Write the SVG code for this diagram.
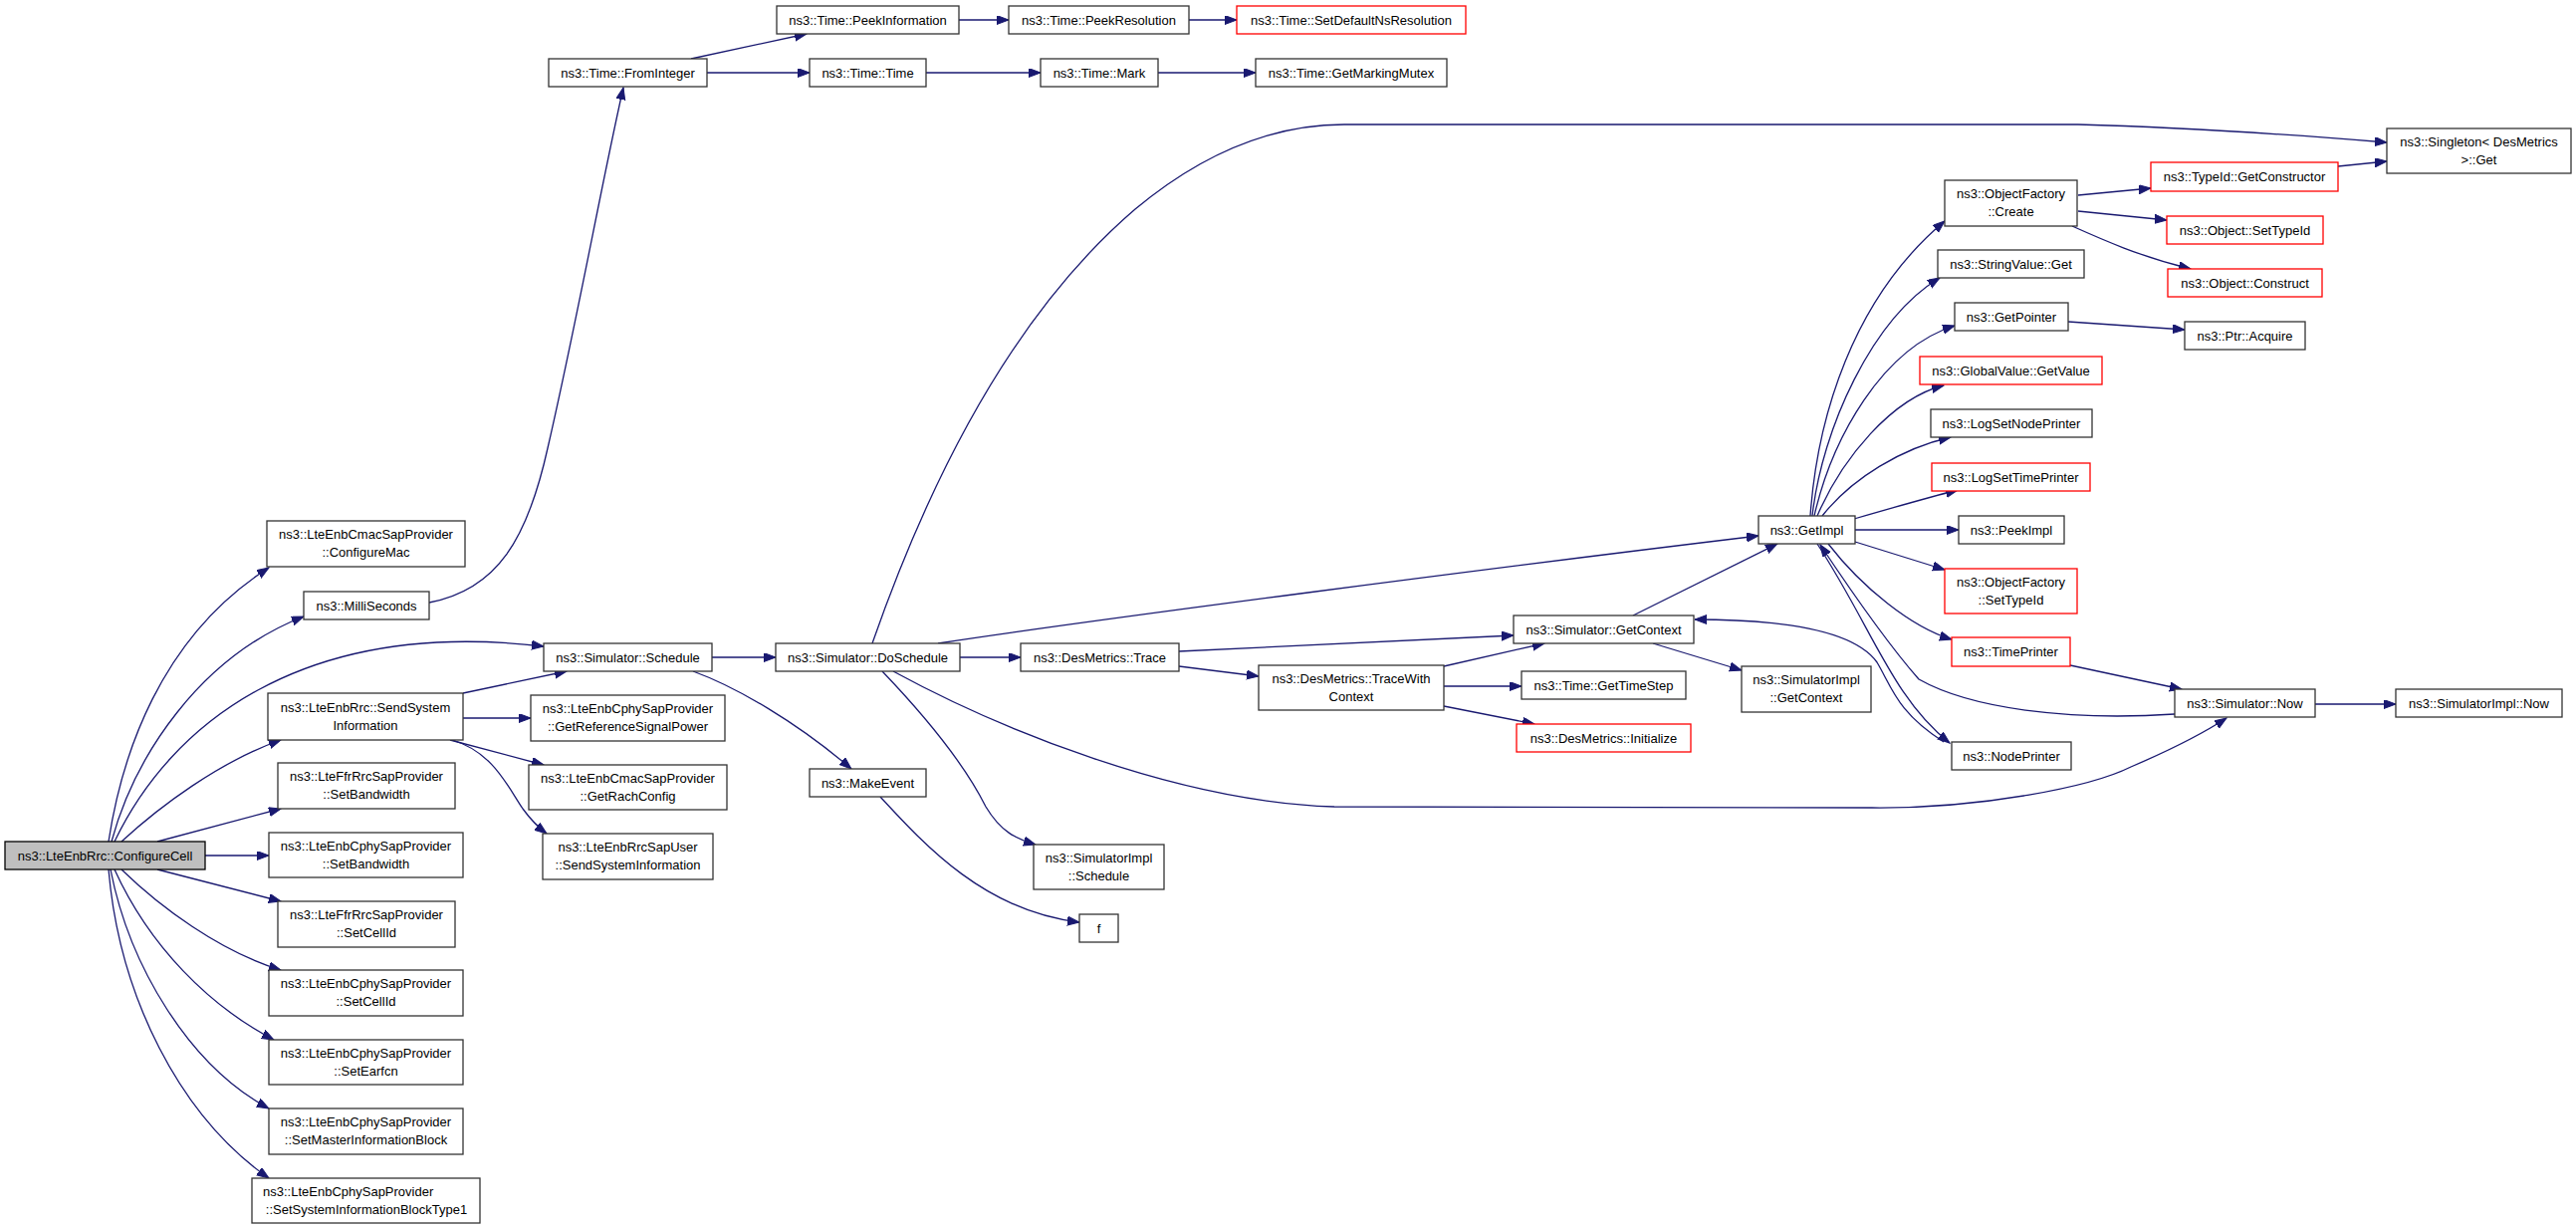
<svg xmlns="http://www.w3.org/2000/svg" width="2587" height="1233" viewBox="0 0 2587 1233">
<style>
.n rect{fill:#fff;stroke:#333;stroke-width:1.3}
.n.r rect{stroke:#ff0000}
.n.g rect{fill:#bfbfbf;stroke:#000}
.n text{font-family:"Liberation Sans",Arial,Helvetica,sans-serif;font-size:13px;fill:#000;text-anchor:middle}
#edges path{fill:none;stroke:#191970;stroke-width:1.3;marker-end:url(#ah)}
</style>
<defs>
<marker id="ah" markerUnits="userSpaceOnUse" markerWidth="13" markerHeight="10" refX="12" refY="4.5" orient="auto">
<path d="M0,0 L12,4.5 L0,9 z" fill="#191970" stroke="#191970" stroke-width="1"/>
</marker>
</defs>
<rect width="2587" height="1233" fill="#fff"/>
<g id="edges">
<path d="M109,845 C122,760 160,640 270,570"/>
<path d="M112,845 C135,760 200,660 305,619"/>
<path d="M115,845 C170,730 300,620 546,649"/>
<path d="M122,845 C160,810 220,765 282,743"/>
<path d="M158,845 L282,812"/>
<path d="M206,859 L270,859"/>
<path d="M158,873 L282,905"/>
<path d="M122,873 C160,910 220,955 282,974"/>
<path d="M115,873 C150,950 210,1010 275,1044"/>
<path d="M111,873 C130,970 190,1070 270,1113"/>
<path d="M109,873 C120,1000 180,1120 270,1183"/>
<path d="M431,605 C500,592 530,540 550,450 C580,320 605,180 626,88"/>
<path d="M694,59 L810,34"/>
<path d="M710,73 L813,73"/>
<path d="M963,20 L1013,20"/>
<path d="M1194,20 L1242,20"/>
<path d="M930,73 L1045,73"/>
<path d="M1163,73 L1261,73"/>
<path d="M465,696 L569,674"/>
<path d="M465,721 L533,721"/>
<path d="M452,743 L546,768"/>
<path d="M454,743 C495,755 510,790 525,812 C533,823 541,831 549,837"/>
<path d="M715,660 L779,660"/>
<path d="M696,674 C740,690 800,725 855,772"/>
<path d="M884,800 C930,850 990,915 1084,926"/>
<path d="M876,646 C920,520 1000,330 1140,210 C1200,160 1270,125 1350,125 L2087,125 C2200,128 2300,135 2397,143"/>
<path d="M942,646 C1100,622 1500,570 1766,538"/>
<path d="M964,660 L1025,660"/>
<path d="M886,674 C930,720 970,770 990,810 C1005,835 1020,842 1040,848"/>
<path d="M897,674 C1000,730 1180,805 1340,810 L1880,811 C1990,812 2100,790 2140,770 C2175,755 2210,738 2236,721"/>
<path d="M1184,654 L1520,638"/>
<path d="M1184,669 L1264,679"/>
<path d="M1450,669 L1551,646"/>
<path d="M1450,689 L1528,689"/>
<path d="M1450,709 L1541,727"/>
<path d="M1640,618 L1785,546"/>
<path d="M1660,646 L1749,673"/>
<path d="M1818,518 C1825,420 1860,300 1953,222"/>
<path d="M1820,518 C1830,430 1880,320 1948,279"/>
<path d="M1822,518 C1840,440 1890,350 1963,327"/>
<path d="M1825,518 C1850,460 1900,400 1952,387"/>
<path d="M1830,518 C1860,480 1910,450 1959,439"/>
<path d="M1862,521 C1900,510 1935,500 1966,492"/>
<path d="M1863,532 L1967,532"/>
<path d="M1863,544 L1953,572"/>
<path d="M1836,546 C1870,590 1920,630 1960,642"/>
<path d="M1825,546 C1880,630 1900,700 1958,746"/>
<path d="M2184,717 C2080,724 1980,712 1927,682 C1890,640 1850,580 1828,547"/>
<path d="M1952,745 C1905,715 1900,690 1885,665 C1860,630 1780,622 1702,622"/>
<path d="M2087,196 L2160,189"/>
<path d="M2087,212 L2176,221"/>
<path d="M2081,227 C2110,240 2150,258 2200,270"/>
<path d="M2348,167 L2397,162"/>
<path d="M2077,323 L2194,331"/>
<path d="M2079,668 L2191,692"/>
<path d="M2325,707 L2406,707"/>
</g>
<g id="n_cc" class="n g"><rect x="5" y="845" width="201" height="28"/><text x="105.5" y="863.5">ns3::LteEnbRrc::ConfigureCell</text></g>
<g id="n_cmac" class="n"><rect x="268" y="523" width="199" height="46"/><text x="367.5" y="541">ns3::LteEnbCmacSapProvider</text><text x="367.5" y="559">::ConfigureMac</text></g>
<g id="n_milli" class="n"><rect x="305" y="594" width="126" height="28"/><text x="368" y="612.5">ns3::MilliSeconds</text></g>
<g id="n_sched" class="n"><rect x="546" y="646" width="169" height="28"/><text x="630.5" y="664.5">ns3::Simulator::Schedule</text></g>
<g id="n_ssi" class="n"><rect x="269" y="696" width="196" height="47"/><text x="367" y="715">ns3::LteEnbRrc::SendSystem</text><text x="367" y="733">Information</text></g>
<g id="n_grsp" class="n"><rect x="533" y="698" width="195" height="46"/><text x="630.5" y="716">ns3::LteEnbCphySapProvider</text><text x="630.5" y="734">::GetReferenceSignalPower</text></g>
<g id="n_grach" class="n"><rect x="531" y="768" width="199" height="45"/><text x="630.5" y="786">ns3::LteEnbCmacSapProvider</text><text x="630.5" y="804">::GetRachConfig</text></g>
<g id="n_rsu" class="n"><rect x="545" y="837" width="171" height="46"/><text x="630.5" y="855">ns3::LteEnbRrcSapUser</text><text x="630.5" y="873">::SendSystemInformation</text></g>
<g id="n_ffrbw" class="n"><rect x="279" y="766" width="178" height="46"/><text x="368" y="784">ns3::LteFfrRrcSapProvider</text><text x="368" y="802">::SetBandwidth</text></g>
<g id="n_cphybw" class="n"><rect x="270" y="836" width="195" height="45"/><text x="367.5" y="854">ns3::LteEnbCphySapProvider</text><text x="367.5" y="872">::SetBandwidth</text></g>
<g id="n_ffrcid" class="n"><rect x="279" y="905" width="178" height="46"/><text x="368" y="923">ns3::LteFfrRrcSapProvider</text><text x="368" y="941">::SetCellId</text></g>
<g id="n_cphycid" class="n"><rect x="270" y="974" width="195" height="46"/><text x="367.5" y="992">ns3::LteEnbCphySapProvider</text><text x="367.5" y="1010">::SetCellId</text></g>
<g id="n_earfcn" class="n"><rect x="270" y="1044" width="195" height="45"/><text x="367.5" y="1062">ns3::LteEnbCphySapProvider</text><text x="367.5" y="1080">::SetEarfcn</text></g>
<g id="n_mib" class="n"><rect x="270" y="1113" width="195" height="46"/><text x="367.5" y="1131">ns3::LteEnbCphySapProvider</text><text x="367.5" y="1149">::SetMasterInformationBlock</text></g>
<g id="n_sib1" class="n"><rect x="253" y="1183" width="229" height="45"/><text x="264" y="1201" style="text-anchor:start">ns3::LteEnbCphySapProvider</text><text x="368" y="1219">::SetSystemInformationBlockType1</text></g>
<g id="n_fromint" class="n"><rect x="551" y="59" width="159" height="28"/><text x="630.5" y="77.5">ns3::Time::FromInteger</text></g>
<g id="n_peekinfo" class="n"><rect x="780" y="6" width="183" height="28"/><text x="871.5" y="24.5">ns3::Time::PeekInformation</text></g>
<g id="n_time" class="n"><rect x="813" y="59" width="117" height="28"/><text x="871.5" y="77.5">ns3::Time::Time</text></g>
<g id="n_peekres" class="n"><rect x="1013" y="6" width="181" height="28"/><text x="1103.5" y="24.5">ns3::Time::PeekResolution</text></g>
<g id="n_setdef" class="n r"><rect x="1242" y="6" width="230" height="28"/><text x="1357" y="24.5">ns3::Time::SetDefaultNsResolution</text></g>
<g id="n_mark" class="n"><rect x="1045" y="59" width="118" height="28"/><text x="1104" y="77.5">ns3::Time::Mark</text></g>
<g id="n_mutex" class="n"><rect x="1261" y="59" width="192" height="28"/><text x="1357" y="77.5">ns3::Time::GetMarkingMutex</text></g>
<g id="n_dosched" class="n"><rect x="779" y="646" width="185" height="28"/><text x="871.5" y="664.5">ns3::Simulator::DoSchedule</text></g>
<g id="n_trace" class="n"><rect x="1025" y="646" width="159" height="28"/><text x="1104.5" y="664.5">ns3::DesMetrics::Trace</text></g>
<g id="n_makeevent" class="n"><rect x="813" y="772" width="117" height="28"/><text x="871.5" y="790.5">ns3::MakeEvent</text></g>
<g id="n_simplsched" class="n"><rect x="1038" y="848" width="131" height="45"/><text x="1103.5" y="866">ns3::SimulatorImpl</text><text x="1103.5" y="884">::Schedule</text></g>
<g id="n_f" class="n"><rect x="1084" y="918" width="39" height="28"/><text x="1103.5" y="936.5">f</text></g>
<g id="n_getctx" class="n"><rect x="1520" y="618" width="181" height="28"/><text x="1610.5" y="636.5">ns3::Simulator::GetContext</text></g>
<g id="n_twc" class="n"><rect x="1264" y="668" width="186" height="45"/><text x="1357" y="686">ns3::DesMetrics::TraceWith</text><text x="1357" y="704">Context</text></g>
<g id="n_timestep" class="n"><rect x="1528" y="674" width="165" height="28"/><text x="1610.5" y="692.5">ns3::Time::GetTimeStep</text></g>
<g id="n_init" class="n r"><rect x="1523" y="727" width="175" height="28"/><text x="1610.5" y="745.5">ns3::DesMetrics::Initialize</text></g>
<g id="n_implctx" class="n"><rect x="1749" y="669" width="130" height="46"/><text x="1814" y="687">ns3::SimulatorImpl</text><text x="1814" y="705">::GetContext</text></g>
<g id="n_getimpl" class="n"><rect x="1766" y="518" width="97" height="28"/><text x="1814.5" y="536.5">ns3::GetImpl</text></g>
<g id="n_singleton" class="n"><rect x="2397" y="129" width="185" height="45"/><text x="2489.5" y="147">ns3::Singleton&lt; DesMetrics</text><text x="2489.5" y="165">&gt;::Get</text></g>
<g id="n_ofcreate" class="n"><rect x="1953" y="181" width="133" height="46"/><text x="2019.5" y="199">ns3::ObjectFactory</text><text x="2019.5" y="217">::Create</text></g>
<g id="n_getctor" class="n r"><rect x="2160" y="163" width="188" height="29"/><text x="2254" y="182">ns3::TypeId::GetConstructor</text></g>
<g id="n_objsettid" class="n r"><rect x="2176" y="217" width="157" height="28"/><text x="2254.5" y="235.5">ns3::Object::SetTypeId</text></g>
<g id="n_construct" class="n r"><rect x="2177" y="270" width="155" height="28"/><text x="2254.5" y="288.5">ns3::Object::Construct</text></g>
<g id="n_strget" class="n"><rect x="1946" y="251" width="147" height="28"/><text x="2019.5" y="269.5">ns3::StringValue::Get</text></g>
<g id="n_getptr" class="n"><rect x="1963" y="304" width="114" height="28"/><text x="2020" y="322.5">ns3::GetPointer</text></g>
<g id="n_acquire" class="n"><rect x="2194" y="323" width="121" height="28"/><text x="2254.5" y="341.5">ns3::Ptr::Acquire</text></g>
<g id="n_gvget" class="n r"><rect x="1928" y="358" width="183" height="28"/><text x="2019.5" y="376.5">ns3::GlobalValue::GetValue</text></g>
<g id="n_lognode" class="n"><rect x="1939" y="411" width="162" height="28"/><text x="2020" y="429.5">ns3::LogSetNodePrinter</text></g>
<g id="n_logtime" class="n r"><rect x="1940" y="465" width="159" height="28"/><text x="2019.5" y="483.5">ns3::LogSetTimePrinter</text></g>
<g id="n_peekimpl" class="n"><rect x="1967" y="518" width="106" height="28"/><text x="2020" y="536.5">ns3::PeekImpl</text></g>
<g id="n_ofsettid" class="n r"><rect x="1953" y="571" width="133" height="45"/><text x="2019.5" y="589">ns3::ObjectFactory</text><text x="2019.5" y="607">::SetTypeId</text></g>
<g id="n_timeprinter" class="n r"><rect x="1960" y="640" width="119" height="29"/><text x="2019.5" y="659">ns3::TimePrinter</text></g>
<g id="n_now" class="n"><rect x="2184" y="692" width="141" height="28"/><text x="2254.5" y="710.5">ns3::Simulator::Now</text></g>
<g id="n_implnow" class="n"><rect x="2406" y="692" width="167" height="28"/><text x="2489.5" y="710.5">ns3::SimulatorImpl::Now</text></g>
<g id="n_nodeprinter" class="n"><rect x="1960" y="745" width="120" height="28"/><text x="2020" y="763.5">ns3::NodePrinter</text></g>
</svg>
